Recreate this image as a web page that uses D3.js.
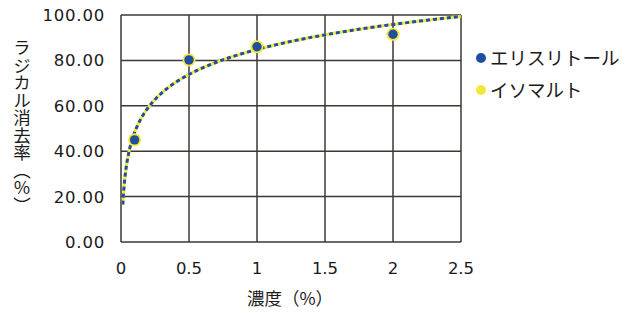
<!DOCTYPE html>
<html>
<head>
<meta charset="utf-8">
<script src="https://cdn.jsdelivr.net/npm/d3@7"></script>
<style>
  body { margin: 0; background: #fff; }
  svg { display: block; }
</style>
</head>
<body>
<div id="chart"></div>
<script>
// data
const concentrations = [0.1, 0.5, 1, 2];
const erythritol = [45.0, 80.2, 86.0, 91.5];
const isomalt = [45.0, 80.2, 86.0, 91.5];
const seriesNames = ["エリスリトール", "イソマルト"];
const xTicks = [0, 0.5, 1, 1.5, 2, 2.5];
const yTicks = [0, 20, 40, 60, 80, 100];

const width = 627, height = 313;
const plot = { left: 121, right: 461, top: 15, bottom: 242 };

const svg = d3.select("#chart").append("svg")
    .attr("width", width)
    .attr("height", height);

const x = d3.scaleLinear().domain([0, 2.5]).range([plot.left, plot.right]);
const y = d3.scaleLinear().domain([0, 100]).range([plot.bottom, plot.top]);

const gridColor = "#3d3735";
const textColor = "#1a1a1a";
const numFont = "'DejaVu Sans', Verdana, sans-serif";
const jpFont = "'Noto Sans CJK JP', sans-serif";

// grid
svg.append("g").selectAll("line")
    .data(xTicks)
    .enter().append("line")
    .attr("x1", d => x(d)).attr("x2", d => x(d))
    .attr("y1", plot.top).attr("y2", plot.bottom)
    .attr("stroke", gridColor).attr("stroke-width", 1.5);

svg.append("g").selectAll("line")
    .data(yTicks)
    .enter().append("line")
    .attr("x1", plot.left).attr("x2", plot.right)
    .attr("y1", d => y(d)).attr("y2", d => y(d))
    .attr("stroke", gridColor).attr("stroke-width", 1.5);

// tick labels
svg.append("g").selectAll("text")
    .data(yTicks)
    .enter().append("text")
    .attr("x", 105)
    .attr("y", d => y(d))
    .attr("dy", "0.36em")
    .attr("text-anchor", "end")
    .style("font-family", numFont)
    .style("font-size", "16.5px")
    .style("letter-spacing", "0.8px")
    .attr("fill", textColor)
    .text(d => d3.format(".2f")(d));

svg.append("g").selectAll("text")
    .data(xTicks)
    .enter().append("text")
    .attr("x", d => x(d))
    .attr("y", 274)
    .attr("text-anchor", "middle")
    .style("font-family", numFont)
    .style("font-size", "16.5px")
    .attr("fill", textColor)
    .text(d => d);

// axis titles
svg.append("text")
    .attr("x", 290)
    .attr("y", 305)
    .attr("text-anchor", "middle")
    .style("font-family", jpFont)
    .style("font-size", "17.5px")
    .attr("fill", textColor)
    .text("濃度（%）");

svg.append("text")
    .attr("x", 22)
    .attr("y", 39)
    .style("writing-mode", "vertical-rl")
    .style("text-orientation", "upright")
    .style("font-family", jpFont)
    .style("font-size", "17.5px")
    .attr("fill", textColor)
    .text("ラジカル消去率（％）");

// logarithmic trendline fitted to the points (like Excel)
function logFit(xs, ys) {
    const lx = xs.map(Math.log);
    const mx = d3.mean(lx), my = d3.mean(ys);
    const a = d3.sum(lx, (v, i) => (v - mx) * (ys[i] - my)) / d3.sum(lx, v => (v - mx) * (v - mx));
    return { a, b: my - a * mx };
}
const fit = logFit(concentrations, erythritol);
const x0 = Math.exp((16.5 - fit.b) / fit.a);
const trendX = d3.range(0, 201).map(i => x0 * Math.pow(2.5 / x0, i / 200));
const trend = trendX.map(v => [v, Math.min(100, fit.a * Math.log(v) + fit.b)]);

const line = d3.line().x(d => x(d[0])).y(d => y(d[1]));

svg.append("path")
    .attr("d", line(trend))
    .attr("fill", "none")
    .attr("stroke", "#f2e83a")
    .attr("stroke-width", 3);

svg.append("path")
    .attr("d", line(trend))
    .attr("fill", "none")
    .attr("stroke", "#1f4f9e")
    .attr("stroke-width", 3)
    .attr("stroke-dasharray", "4,3");

// markers
svg.append("g").selectAll("circle")
    .data(concentrations.map((c, i) => [c, isomalt[i]]))
    .enter().append("circle")
    .attr("cx", d => x(d[0]))
    .attr("cy", d => y(d[1]))
    .attr("r", 6.5)
    .attr("fill", "#f2e83a");

svg.append("g").selectAll("circle")
    .data(concentrations.map((c, i) => [c, erythritol[i]]))
    .enter().append("circle")
    .attr("cx", d => x(d[0]))
    .attr("cy", d => y(d[1]))
    .attr("r", 4.7)
    .attr("fill", "#1f4f9e");

// legend
const legendColors = ["#1f4f9e", "#f2e83a"];
const legend = svg.append("g").selectAll("g")
    .data(seriesNames)
    .enter().append("g")
    .attr("transform", (d, i) => `translate(481, ${58 + i * 32})`);

legend.append("circle")
    .attr("r", 5)
    .attr("fill", (d, i) => legendColors[i]);

legend.append("text")
    .attr("x", 9)
    .attr("dy", "0.36em")
    .style("font-family", jpFont)
    .style("font-size", "18.5px")
    .attr("fill", textColor)
    .text(d => d);
</script>
</body>
</html>
